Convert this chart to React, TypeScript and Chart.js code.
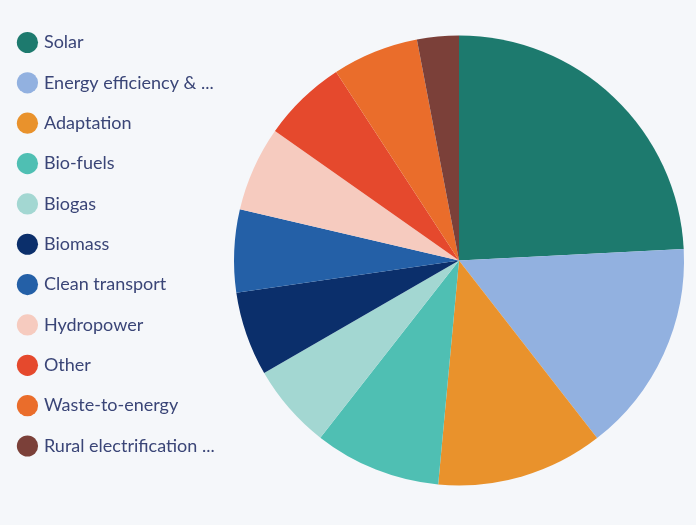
import React, { useEffect, useRef } from 'react';
import { Chart, registerables } from 'chart.js';

Chart.register(...registerables);

const categories = [
  'Solar',
  'Energy efficiency & ...',
  'Adaptation',
  'Bio-fuels',
  'Biogas',
  'Biomass',
  'Clean transport',
  'Hydropower',
  'Other',
  'Waste-to-energy',
  'Rural electrification ...',
];

const shares = [24.2, 15.3, 12.0, 9.1, 6.1, 6.05, 5.95, 6.1, 6.05, 6.2, 3.0];

const sliceColors = [
  '#1d7a6e',
  '#92b1e0',
  '#e9922c',
  '#4fbfb3',
  '#a3d7d2',
  '#0b2f6b',
  '#2460a7',
  '#f6cbbf',
  '#e5492d',
  '#ea6d2b',
  '#7b4039',
];

export default function App() {
  const ref = useRef<HTMLCanvasElement>(null);
  useEffect(() => {
    document.body.style.margin = '0';
    const chart = new Chart(ref.current!, {
      type: 'pie',
      data: {
        labels: categories,
        datasets: [
          {
            data: shares,
            backgroundColor: sliceColors,
            borderWidth: 0,
            radius: 225,
          },
        ],
      },
      options: {
        responsive: false,
        animation: false,
        layout: { padding: { left: -2.4, top: 11.15, bottom: 15.15, right: 0 } },
        plugins: {
          legend: {
            position: 'left',
            align: 'start',
            maxWidth: 224.4,
            labels: {
              usePointStyle: true,
              pointStyle: 'circle',
              boxWidth: 15,
              boxHeight: 15,
              padding: 22.35,
              color: '#3a4577',
              font: { family: 'Lato', size: 18 },
            },
          },
          tooltip: { enabled: false },
        },
      },
    } as any);
    return () => chart.destroy();
  }, []);
  return (
    <div style={{ width: 696, height: 525, background: '#f5f7fa' }}>
      <canvas ref={ref} width={696} height={525} style={{ display: 'block' }} />
    </div>
  );
}
